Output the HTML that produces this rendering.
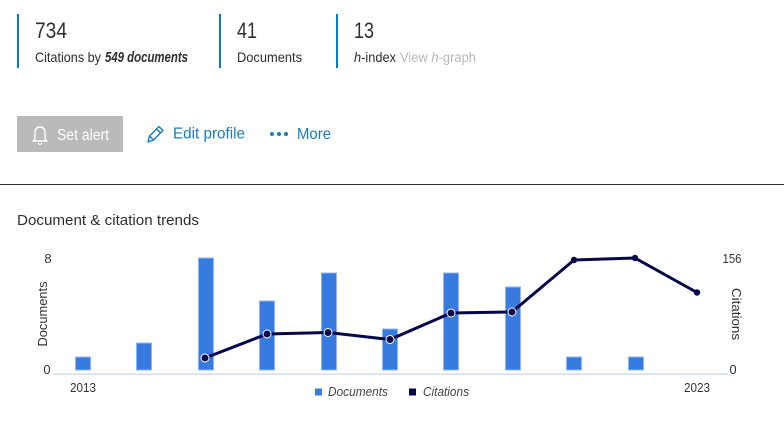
<!DOCTYPE html>
<html><head><meta charset="utf-8"><style>
html,body{margin:0;padding:0;background:#fff;}
svg{display:block;}
text{font-family:"Liberation Sans",sans-serif;}
</style></head><body>
<svg width="784" height="426" viewBox="0 0 784 426" xmlns="http://www.w3.org/2000/svg">
<rect width="784" height="426" fill="#fff"/>
<!-- stats -->
<rect x="17" y="14" width="2" height="54" fill="#0a7bc1"/>
<rect x="219" y="14" width="2" height="54" fill="#0a7bc1"/>
<rect x="336" y="14" width="2" height="54" fill="#0a7bc1"/>
<text x="35" y="38" font-size="22" fill="#2e2e2e" textLength="32" lengthAdjust="spacingAndGlyphs">734</text>
<text x="35" y="62" font-size="14" fill="#2e2e2e" textLength="66" lengthAdjust="spacingAndGlyphs">Citations by</text>
<text x="105" y="62" font-size="14.5" fill="#2e2e2e" font-weight="bold" font-style="italic" textLength="83" lengthAdjust="spacingAndGlyphs">549 documents</text>
<text x="237" y="38" font-size="22" fill="#2e2e2e" textLength="20" lengthAdjust="spacingAndGlyphs">41</text>
<text x="237" y="62" font-size="14" fill="#2e2e2e" textLength="65" lengthAdjust="spacingAndGlyphs">Documents</text>
<text x="354" y="38" font-size="22" fill="#2e2e2e" textLength="20" lengthAdjust="spacingAndGlyphs">13</text>
<text x="354" y="62" font-size="14" fill="#2e2e2e" textLength="42" lengthAdjust="spacingAndGlyphs"><tspan font-style="italic">h</tspan>-index</text>
<text x="400" y="62" font-size="14" fill="#b8b8b8" textLength="76" lengthAdjust="spacingAndGlyphs">View <tspan font-style="italic">h</tspan>-graph</text>
<!-- buttons -->
<rect x="17" y="116" width="106" height="36" fill="#bababa"/>
<g fill="none" stroke="#fff" stroke-width="1.4" stroke-linejoin="round">
<path d="M35 139 L35 133 Q35 127 40 127 Q45 127 45 133 L45 139 L47 141 L33 141 Z"/>
<path d="M38 143 Q40 145.5 42 143"/>
</g>
<text x="57" y="140" font-size="16" fill="#fff" textLength="52" lengthAdjust="spacingAndGlyphs">Set alert</text>
<g fill="none" stroke="#1b7bbf" stroke-width="1.4" stroke-linejoin="round">
<path d="M148 142 L149.5 136 L159 126.5 L163 130.5 L153.5 140 Z"/>
<path d="M156.5 129 L160.5 133"/>
<path d="M149.5 136 L153.5 140"/>
</g>
<text x="173" y="138.5" font-size="16" fill="#1b7bbf" textLength="72" lengthAdjust="spacingAndGlyphs">Edit profile</text>
<circle cx="272" cy="134" r="2" fill="#1b7bbf"/>
<circle cx="279" cy="134" r="2" fill="#1b7bbf"/>
<circle cx="286" cy="134" r="2" fill="#1b7bbf"/>
<text x="297" y="139" font-size="16" fill="#1b7bbf" textLength="34" lengthAdjust="spacingAndGlyphs">More</text>
<rect x="0" y="184" width="784" height="1" fill="#333"/>
<text x="17" y="225" font-size="15" fill="#2e2e2e" textLength="182" lengthAdjust="spacingAndGlyphs">Document &amp; citation trends</text>
<!-- axes labels -->
<text x="48" y="263" font-size="13" fill="#333" text-anchor="middle">8</text>
<text x="47" y="374" font-size="13" fill="#333" text-anchor="middle">0</text>
<text transform="translate(47,314) rotate(-90)" font-size="13" fill="#333" text-anchor="middle" textLength="65" lengthAdjust="spacingAndGlyphs">Documents</text>
<text x="732" y="263" font-size="13" fill="#333" text-anchor="middle" textLength="19" lengthAdjust="spacingAndGlyphs">156</text>
<text x="733" y="374" font-size="13" fill="#333" text-anchor="middle">0</text>
<text transform="translate(732,314) rotate(90)" font-size="13" fill="#333" text-anchor="middle" textLength="52" lengthAdjust="spacingAndGlyphs">Citations</text>
<text x="83" y="392" font-size="13" fill="#333" text-anchor="middle" textLength="26" lengthAdjust="spacingAndGlyphs">2013</text>
<text x="697" y="392" font-size="13" fill="#333" text-anchor="middle" textLength="26" lengthAdjust="spacingAndGlyphs">2023</text>
<!-- axis line -->
<rect x="53" y="373.5" width="675" height="1.2" fill="#c5d4ec"/>
<!-- bars -->
<g fill="#377be0" stroke="#92b7ef" stroke-width="1">
<rect x="75.5" y="357" width="15" height="13"/>
<rect x="136.5" y="343" width="15" height="27"/>
<rect x="198.5" y="258" width="15" height="112"/>
<rect x="259.5" y="301" width="15" height="69"/>
<rect x="321.5" y="273" width="15" height="97"/>
<rect x="382.5" y="329" width="15" height="41"/>
<rect x="443.5" y="273" width="15" height="97"/>
<rect x="505.5" y="287" width="15" height="83"/>
<rect x="566.5" y="357" width="15" height="13"/>
<rect x="628.5" y="357" width="15" height="13"/>
</g>
<!-- line -->
<polyline points="205,358 267,334 328,332.5 390,339.5 451,313 512,312 574,260 635,258 697,292.5" fill="none" stroke="#060648" stroke-width="3" stroke-linejoin="round"/>
<g fill="#060648" stroke="#fff" stroke-width="1">
<circle cx="205" cy="358" r="4"/>
<circle cx="267" cy="334" r="4"/>
<circle cx="328" cy="332.5" r="4"/>
<circle cx="390" cy="339.5" r="4"/>
<circle cx="451" cy="313" r="4"/>
<circle cx="512" cy="312" r="4"/>
</g>
<g fill="#060648">
<circle cx="574" cy="260" r="3.2"/>
<circle cx="635" cy="258" r="3.2"/>
<circle cx="697" cy="292.5" r="3.2"/>
</g>
<!-- legend -->
<rect x="315" y="388.5" width="7" height="7" fill="#377be0"/>
<text x="328" y="396" font-size="12.5" font-style="italic" fill="#444" textLength="60" lengthAdjust="spacingAndGlyphs">Documents</text>
<rect x="409" y="388.5" width="7" height="7" fill="#060648"/>
<text x="423" y="396" font-size="12.5" font-style="italic" fill="#444" textLength="46" lengthAdjust="spacingAndGlyphs">Citations</text>
</svg>
</body></html>
